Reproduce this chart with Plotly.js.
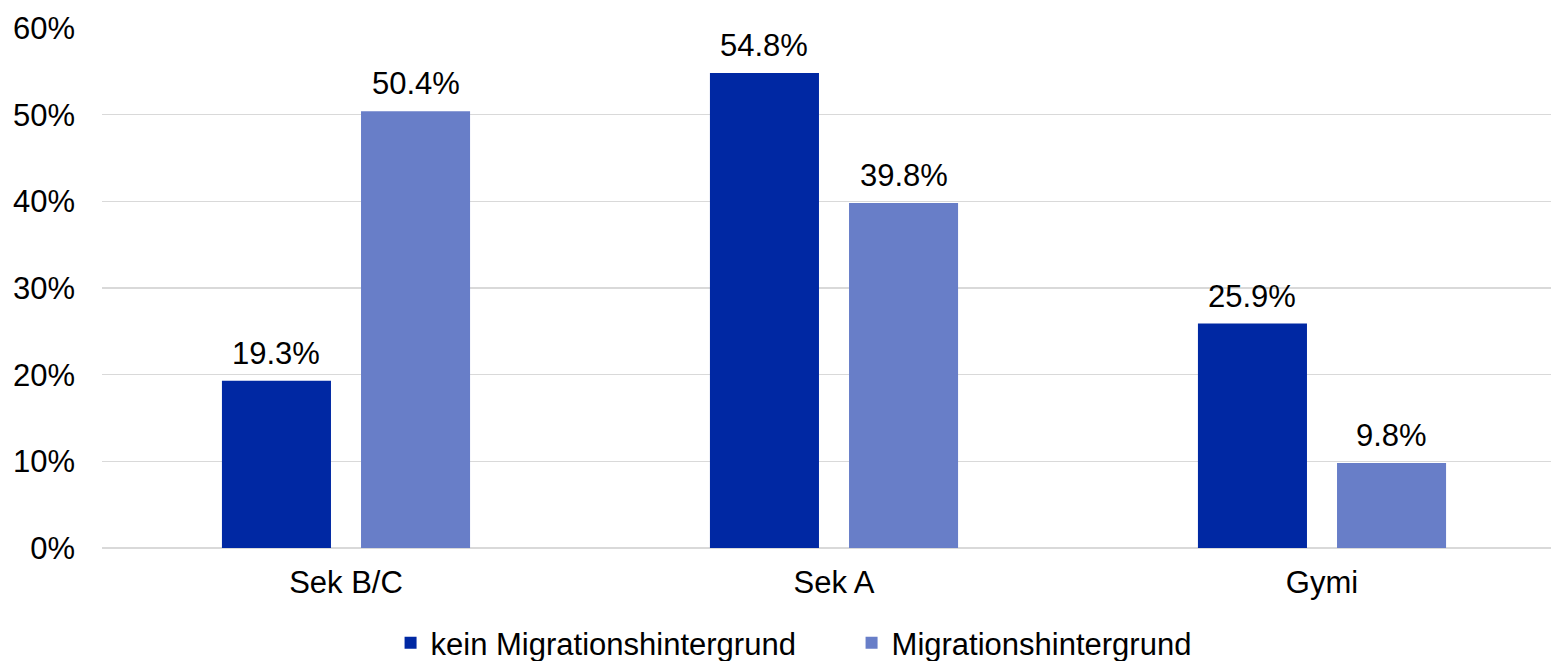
<!DOCTYPE html>
<html>
<head>
<meta charset="utf-8">
<script src="https://cdn.plot.ly/plotly-3.0.1.min.js"></script>
<style>
  html, body { margin: 0; padding: 0; overflow: hidden; background: #fff; }
  #chart { width: 1566px; height: 661px; }
</style>
</head>
<body>
<div id="chart"></div>
<script>
// School track shares by migration background
const categories = ['Sek B/C', 'Sek A', 'Gymi'];
const seriesNames = ['kein Migrationshintergrund', 'Migrationshintergrund'];
const keinMigration = [19.3, 54.8, 25.9];
const mitMigration = [50.4, 39.8, 9.8];
const seriesColors = ['#0028A3', '#687EC8'];

const FONT = 'Liberation Sans, Arial, sans-serif';
const BARGAP = 0.43;
const BARGROUPGAP = 0.216;

function barTrace(name, values, color) {
  return {
    type: 'bar',
    name: name,
    x: categories,
    y: values,
    marker: { color: color },
    hoverinfo: 'x+y+name'
  };
}

const series = [keinMigration, mitMigration];
const data = series.map((vals, i) => barTrace(seriesNames[i], vals, seriesColors[i]));

// Value labels above each bar; the horizontal offset follows the grouped-bar slot width
const slot = (1 - BARGAP) / series.length;
const annotations = [];
series.forEach((vals, s) => {
  const offset = (s - (series.length - 1) / 2) * slot;
  vals.forEach((v, c) => {
    annotations.push({
      x: c + offset,
      y: v,
      xref: 'x',
      yref: 'y',
      text: v.toFixed(1) + '%',
      showarrow: false,
      xanchor: 'center',
      yanchor: 'bottom',
      yshift: 8,
      font: { family: FONT, size: 31, color: '#000' }
    });
  });
});

const layout = {
  width: 1566,
  height: 661,
  margin: { l: 102, r: 0, t: 28, b: 113, autoexpand: false },
  paper_bgcolor: '#fff',
  plot_bgcolor: '#fff',
  font: { family: FONT, size: 31, color: '#000' },
  barmode: 'group',
  bargap: BARGAP,
  bargroupgap: BARGROUPGAP,
  showlegend: true,
  legend: {
    orientation: 'h',
    x: 0.512,
    xanchor: 'center',
    y: -0.183,
    yanchor: 'middle',
    font: { family: FONT, size: 31, color: '#000' },
    entrywidth: 416,
    entrywidthmode: 'pixels'
  },
  annotations: annotations,
  xaxis: {
    type: 'category',
    showgrid: false,
    showline: false,
    ticks: '',
    ticklabelstandoff: 13,
    tickfont: { family: FONT, size: 31, color: '#000' }
  },
  yaxis: {
    range: [0, 60],
    dtick: 10,
    ticksuffix: '%',
    showgrid: true,
    gridcolor: '#D9D9D9',
    gridwidth: 1.5,
    zeroline: true,
    zerolinecolor: '#D9D9D9',
    zerolinewidth: 1.5,
    showline: false,
    ticks: '',
    ticklabelstandoff: 26,
    tickfont: { family: FONT, size: 31, color: '#000' }
  }
};

Plotly.newPlot('chart', data, layout, { displayModeBar: false, staticPlot: true });
</script>
</body>
</html>
